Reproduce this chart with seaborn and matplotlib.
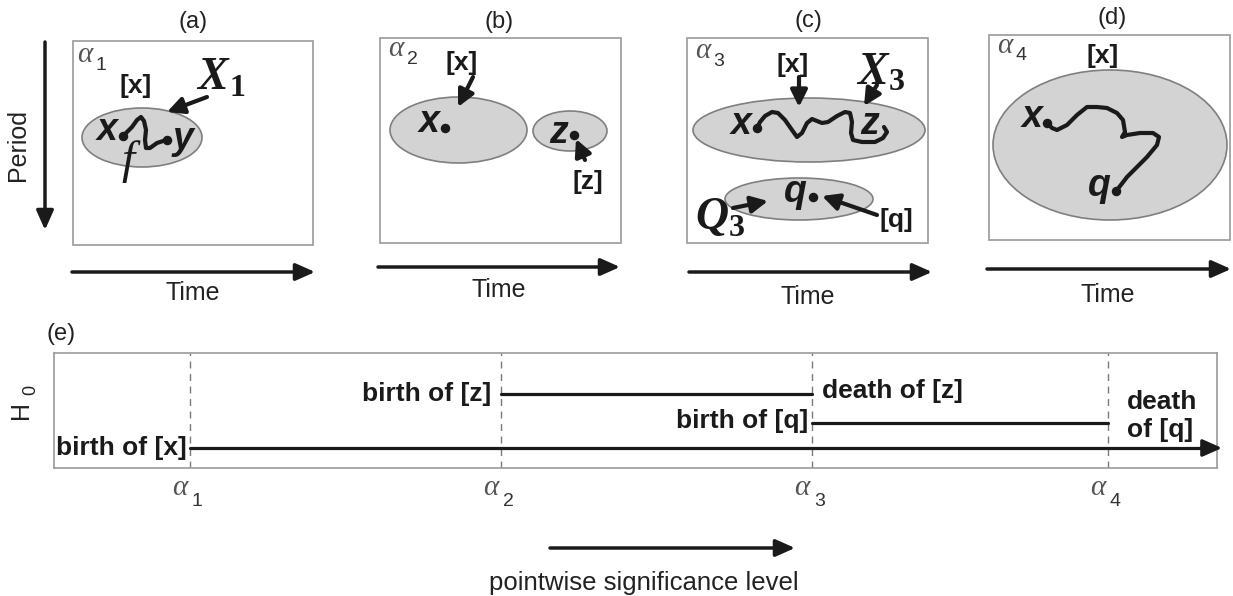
import matplotlib
matplotlib.use('Agg')
import matplotlib.pyplot as plt
import matplotlib.transforms as mtransforms
from matplotlib.patches import Ellipse, Rectangle
import seaborn as sns
import pandas as pd

# ---- panel (e): barcode of H0 over the significance levels ----
alpha_levels = [1.0, 2.0, 3.0, 3.95]
alpha_subs = ['1', '2', '3', '4']
bar_classes = ['[x]', '[z]', '[q]']
bar_birth = [1.0, 2.0, 3.0]
bar_death = [4.3, 3.0, 3.95]      # [x] never dies, runs off the end
bar_rows = [0.174, 0.643, 0.391]  # vertical slot of each bar in the box

# ---- panels (a)-(d): sketches, in pixel coords of the figure ----
panel_tags = ['(a)', '(b)', '(c)', '(d)']
panel_boxes = [(73, 41, 240, 204), (380, 38, 241, 205), (687, 38, 241, 205), (989, 35, 241, 205)]
tag_pos = [(193, 22), (499, 22), (808, 21), (1112, 18)]
alpha_pos = [(85, 55), (396, 49), (703, 51), (1005, 46)]
time_arrows = [(72, 315, 272), (378, 620, 267), (689, 932, 272), (987, 1231, 269)]
time_pos = [(193, 293), (499, 290), (808, 297), (1108, 295)]

ellipses = [(142, 137.5, 120, 59),
            (458.5, 130, 137, 66), (570, 131, 74, 40),
            (809, 130, 232, 64), (799, 199, 148, 42),
            (1110, 145, 234, 150)]

curve_a = [(123, 136), (127, 132), (132, 127), (137, 120), (141, 117), (144, 121),
           (146, 130), (145, 140), (146, 148), (150, 148), (157, 143), (163, 141), (167, 140)]
curve_c = [(757, 128), (760, 122), (765, 116), (772, 112), (778, 113), (785, 120),
           (792, 130), (797, 137), (802, 133), (807, 123), (812, 119), (817, 121),
           (822, 123), (828, 122), (837, 116), (845, 112), (850, 113), (852, 122),
           (851, 133), (853, 140), (862, 142), (875, 142), (883, 138), (887, 132), (884, 127)]
curve_d = [(1047, 123), (1052, 128), (1057, 130), (1067, 125), (1077, 115), (1087, 107),
           (1097, 107), (1107, 108), (1117, 113), (1123, 120), (1125, 132), (1122, 137),
           (1127, 135), (1140, 133), (1153, 133), (1159, 137), (1157, 145), (1147, 157),
           (1137, 167), (1127, 177), (1117, 190)]

points = [(107, 130, 'x'), (183, 139, 'y'), (429, 122, 'x'), (559, 133, 'z'),
          (741, 124, 'x'), (870, 124, 'z'), (795, 192, 'q'), (1032, 117, 'x'), (1099, 186, 'q')]
dots = [(123, 136), (167, 140), (445, 128), (574, 135), (757, 128), (813, 197),
        (1047, 123), (1116, 191)]
class_labels = [(136, 86, '[x]'), (462, 63, '[x]'), (588, 182, '[z]'), (793, 65, '[x]'),
                (896, 220, '[q]'), (1103, 56, '[x]')]
big_sets = [(212, 78, 'X', '1'), (872, 73, 'X', '3'), (712, 218, 'Q', '3')]
pointers = [(207, 97, 167, 112), (473, 77, 458, 107), (585, 160, 576, 139),
            (799, 77, 799, 107), (877, 85, 864, 106), (733, 208, 768, 201),
            (877, 215, 822, 196)]

sns.set_theme(style='white')
plt.rcParams['font.family'] = ['Liberation Sans', 'DejaVu Sans']

fig = plt.figure(figsize=(12.33, 5.96), dpi=100)
ax = fig.add_axes([0, 0, 1, 1])
ax.set_xlim(0, 1233)
ax.set_ylim(596, 0)
ax.axis('off')

TXT = '#222222'


def arrow(a, x0, y0, x1, y1, lw=2.5, hl=0.9, hw=0.4, ms=13, clip=True):
    a.annotate('', xy=(x1, y1), xytext=(x0, y0), annotation_clip=clip,
               arrowprops=dict(arrowstyle=f'-|>,head_length={hl},head_width={hw}',
                               lw=lw, color='k', shrinkA=0, shrinkB=0, mutation_scale=ms))


# boxes, titles, time arrows
for (x0, y0, w, h), tag, tp, ap, ta, tt, sub in zip(panel_boxes, panel_tags, tag_pos, alpha_pos,
                                                    time_arrows, time_pos, alpha_subs):
    ax.add_patch(Rectangle((x0, y0), w, h, fill=False, ec='#9a9a9a', lw=1.2))
    ax.text(tp[0], tp[1], tag, fontsize=17, ha='center', va='center', color=TXT)
    ax.text(ap[0], ap[1], 'α', family='Liberation Serif', style='italic', fontsize=21,
            ha='center', va='center', color='#555555')
    ax.text(ap[0] + 16, ap[1] + 10, sub, fontsize=14, ha='center', va='center', color='#333333')
    arrow(ax, ta[0], ta[2], ta[1], ta[2])
    ax.text(tt[0], tt[1], 'Time', fontsize=18, ha='center', va='center', color=TXT)

# Period axis
arrow(ax, 45, 42, 45, 230)
ax.text(18, 145, 'Period', fontsize=18, rotation=90, ha='center', va='center', color=TXT)

# gray connected sets
for cx, cy, w, h in ellipses:
    ax.add_patch(Ellipse((cx, cy), w, h, fc='#d3d3d3', ec='#7f7f7f', lw=1.2))

# paths inside the sets
for c in [curve_a, curve_c, curve_d]:
    sns.lineplot(x=[p[0] for p in c], y=[p[1] for p in c], sort=False, estimator=None,
                 color='k', lw=3, ax=ax)
ax.scatter([d[0] for d in dots], [d[1] for d in dots], s=34, color='k', zorder=5)

for x, y, s in points:
    ax.text(x, y, s, fontsize=27, fontweight='bold', style='italic', ha='center', va='center',
            color='k')
ax.text(128, 162, 'f', family='Liberation Serif', style='italic', fontsize=34,
        ha='center', va='center', color='k')

for x, y, s in class_labels:
    ax.text(x, y, s, fontsize=19, fontweight='bold', ha='center', va='center', color='k')

for x, y, s, sub in big_sets:
    ax.text(x, y, s, family='Liberation Serif', fontweight='bold', style='italic', fontsize=33,
            ha='center', va='center', color='k')
    ax.text(x + 25, y + 10, sub, family='Liberation Serif', fontweight='bold', fontsize=23,
            ha='center', va='center', color='k')

for x0, y0, x1, y1 in pointers:
    arrow(ax, x0, y0, x1, y1, lw=3, hl=1.0, hw=0.5, ms=10)

# bottom axis label
arrow(ax, 550, 548, 795, 548)
ax.text(644, 583, 'pointwise significance level', fontsize=18.5, ha='center', va='center',
        color=TXT)

# ---- panel (e) ----
ax.text(47, 334, '(e)', fontsize=17, ha='left', va='center', color=TXT)
ax.text(21, 410, 'H', fontsize=18, rotation=90, ha='center', va='center', color=TXT)
ax.text(31, 390, '0', fontsize=13, rotation=90, ha='center', va='center', color=TXT)

L, R, T, B = 54, 1217, 353, 468
ax_e = fig.add_axes([L / 1233, 1 - B / 596, (R - L) / 1233, (B - T) / 596])
ax_e.set_facecolor('none')
ax_e.set_xlim(0.563, 4.302)
ax_e.set_ylim(0, 1)
ax_e.set_xticks([])
ax_e.set_yticks([])
for sp in ax_e.spines.values():
    sp.set_visible(True)
    sp.set_color('#9a9a9a')
    sp.set_linewidth(1.2)

for a in alpha_levels:
    ax_e.axvline(a, color='#7a7a7a', lw=1, dashes=(5, 4))

bars = pd.DataFrame({
    'cls': [c for c in bar_classes for _ in range(2)],
    'level': [v for b, d in zip(bar_birth, bar_death) for v in (b, d)],
    'row': [r for r in bar_rows for _ in range(2)],
})
sns.lineplot(data=bars, x='level', y='row', units='cls', estimator=None, sort=False,
             color='k', lw=2.3, ax=ax_e, legend=False)
arrow(ax_e, 4.25, bar_rows[0], 4.318, bar_rows[0], lw=2.3, clip=False)
ax_e.set_xlabel('')
ax_e.set_ylabel('')

tr = mtransforms.blended_transform_factory(ax_e.transData, ax_e.transAxes)
for a, sub in zip(alpha_levels, alpha_subs):
    ax_e.text(a - 0.032, -0.174, 'α', transform=tr, family='Liberation Serif', style='italic',
              fontsize=21, ha='center', va='center', color='#555555', clip_on=False)
    ax_e.text(a + 0.024, -0.29, sub, transform=tr, fontsize=14, ha='center', va='center',
              color='#333333', clip_on=False)

bold = dict(fontsize=19, fontweight='bold', va='center', color='k')
ax_e.text(0.99, bar_rows[0], 'birth of [x]', ha='right', **bold)
ax_e.text(1.968, bar_rows[1], 'birth of [z]', ha='right', **bold)
ax_e.text(3.032, 0.67, 'death of [z]', ha='left', **bold)
ax_e.text(2.987, 0.41, 'birth of [q]', ha='right', **bold)
ax_e.text(4.013, 0.452, 'death\nof [q]', ha='left', linespacing=1.25, **bold)

fig.savefig('out.png', dpi=100)
